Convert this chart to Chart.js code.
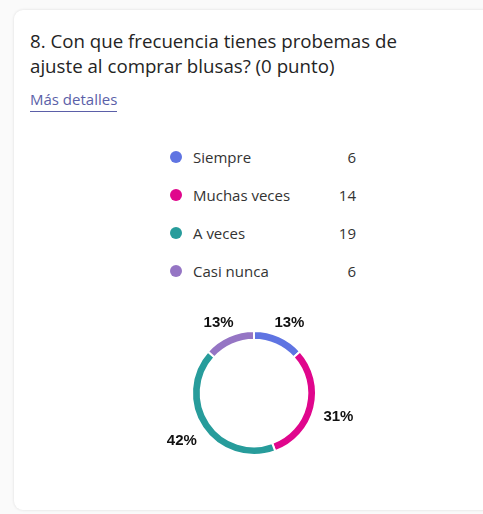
<!DOCTYPE html>
<html>
<head>
<meta charset="utf-8">
<script src="https://cdn.jsdelivr.net/npm/chart.js@4"></script>
<style>
  html, body { margin: 0; padding: 0; background: #fafafa; }
  body { width: 483px; height: 514px; overflow: hidden; position: relative; font-family: 'Segoe UI', 'Open Sans', 'Noto Sans', sans-serif; }
  .card { position: absolute; left: 14px; top: 10px; width: 490px; height: 500px; background: #fff; border-radius: 9px; box-shadow: 0 0 3px rgba(0,0,0,0.12); }
  .title { position: absolute; left: 30px; top: 28px; font-size: 18.7px; line-height: 25px; color: #242424; }
  .more { position: absolute; left: 30px; top: 89px; font-size: 15px; color: #5b5fa8; border-bottom: 1.5px solid #5b5fa8; padding-bottom: 2px; }
  .legend { position: absolute; left: 168px; top: 146px; width: 192px; }
  .row { position: relative; height: 38px; font-size: 15px; color: #333; line-height: 22px; }
  .dot { position: absolute; left: 2px; top: 5px; width: 12px; height: 12px; border-radius: 50%; }
  .lbl { position: absolute; left: 25px; top: 0; }
  .val { position: absolute; right: 4px; top: 0; }
  #chart { position: absolute; left: 150px; top: 300px; }
</style>
</head>
<body>
<div class="card"></div>
<div class="title">8. Con que frecuencia tienes probemas de<br>ajuste al comprar blusas? (0 punto)</div>
<div class="more">Más detalles</div>
<div class="legend" id="legend"></div>
<canvas id="chart" width="208" height="186"></canvas>
<script>
const categories = ['Siempre', 'Muchas veces', 'A veces', 'Casi nunca'];
const counts = [6, 14, 19, 6];
const colors = ['#5f74e2', '#e0068c', '#279c9b', '#9575c4'];

const total = counts.reduce((s, v) => s + v, 0);

document.getElementById('legend').innerHTML = categories.map((c, i) =>
  `<div class="row"><span class="dot" style="background:${colors[i]}"></span><span class="lbl">${c}</span><span class="val">${counts[i]}</span></div>`
).join('');

// percentage labels outside the ring
const outsideLabels = {
  id: 'outsideLabels',
  afterDatasetsDraw(chart) {
    const ctx = chart.ctx;
    const meta = chart.getDatasetMeta(0);
    ctx.save();
    ctx.font = 'bold 15px Arial, "Liberation Sans", sans-serif';
    ctx.fillStyle = '#111';
    ctx.textAlign = 'center';
    ctx.textBaseline = 'middle';
    meta.data.forEach((arc, i) => {
      const mid = (arc.startAngle + arc.endAngle) / 2;
      const x = arc.x + Math.cos(mid) * (arc.outerRadius + 25);
      const y = arc.y + Math.sin(mid) * (arc.outerRadius + 15) + (Math.sin(mid) > 0 ? 5 : 0);
      ctx.fillText(Math.round(counts[i] / total * 100) + '%', x, y);
    });
    ctx.restore();
  }
};

new Chart(document.getElementById('chart'), {
  type: 'doughnut',
  data: {
    labels: categories,
    datasets: [{ data: counts, backgroundColor: colors, borderColor: '#fff', borderWidth: 2 }]
  },
  options: {
    responsive: false,
    animation: false,
    cutout: '86%',
    layout: { padding: { top: 30, bottom: 30, left: 41, right: 41 } },
    plugins: { legend: { display: false }, tooltip: { enabled: false } }
  },
  plugins: [outsideLabels]
});
</script>
</body>
</html>
